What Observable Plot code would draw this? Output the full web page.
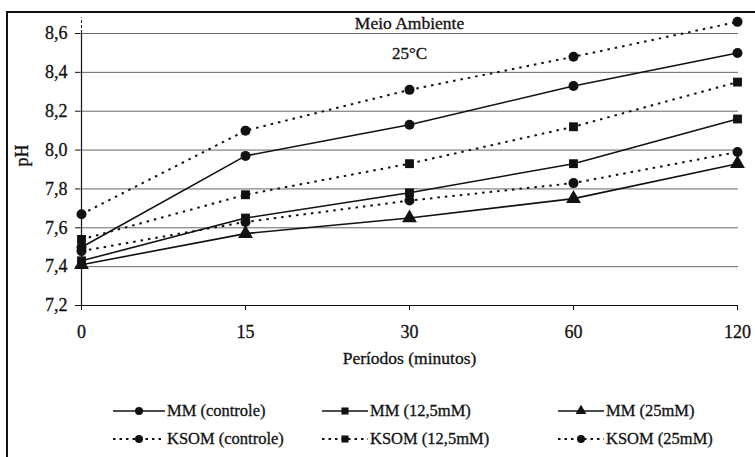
<!DOCTYPE html>
<html>
<head>
<meta charset="utf-8">
<script src="https://cdn.jsdelivr.net/npm/d3@7"></script>
<script src="https://cdn.jsdelivr.net/npm/@observablehq/plot@0.6"></script>
<style>
  html, body { margin: 0; padding: 0; background: #fff; }
  #wrap { position: relative; width: 755px; height: 457px; overflow: hidden; font-family: "Liberation Serif", "Times New Roman", Times, serif; }
  #frame { position: absolute; left: 6px; top: 11px; width: 760px; height: 460px; border-left: 2px solid #111; border-top: 2px solid #111; box-sizing: border-box; }
  #chart { position: absolute; left: 0; top: 0; }
  #chart svg text { font-family: "Liberation Serif", "Times New Roman", Times, serif; stroke: #111; stroke-width: 0.3px; }
  #legend { position: absolute; left: 113px; top: 400px; display: grid; grid-template-columns: 209px 236px auto; row-gap: 6px; font-size: 16.5px; color: #111; -webkit-text-stroke: 0.3px #111; }
  .item { display: flex; align-items: center; height: 22px; white-space: nowrap; }
  .item svg { margin-right: 2px; }
</style>
</head>
<body>
<div id="wrap">
  <div id="frame"></div>
  <div id="chart"></div>
  <div id="legend"></div>
</div>
<script>
// ---- data ----
const periods = ["0", "15", "30", "60", "120"];
const mmControle   = [7.50, 7.97, 8.13, 8.33, 8.50];
const mm125        = [7.43, 7.65, 7.78, 7.93, 8.16];
const mm25         = [7.41, 7.57, 7.65, 7.75, 7.93];
const ksomControle = [7.67, 8.10, 8.31, 8.48, 8.66];
const ksom125      = [7.54, 7.77, 7.93, 8.12, 8.35];
const ksom25       = [7.48, 7.63, 7.74, 7.83, 7.99];
const yTicks = [7.2, 7.4, 7.6, 7.8, 8.0, 8.2, 8.4, 8.6];
const seriesNames = ["MM (controle)", "MM (12,5mM)", "MM (25mM)", "KSOM (controle)", "KSOM (12,5mM)", "KSOM (25mM)"];
const seriesValues = [mmControle, mm125, mm25, ksomControle, ksom125, ksom25];
const seriesSymbols = ["circle", "square", "triangle", "circle", "square", "circle"];
const seriesDotted = [false, false, false, true, true, true];
const title = "Meio Ambiente";
const subtitle = "25°C";
const xLabel = "Períodos (minutos)";
const yLabel = "pH";

const rows = [];
seriesNames.forEach((name, i) => {
  periods.forEach((p, j) => rows.push({series: name, period: p, value: seriesValues[i][j], idx: i}));
});

const fmt = d => d.toFixed(1).replace(".", ",");
const FONT = "'Liberation Serif', 'Times New Roman', serif";

const marks = [
  Plot.ruleY(yTicks.filter(d => d > 7.2), {stroke: "#666", strokeWidth: 1}),
  Plot.ruleY([7.2], {stroke: "#111", strokeWidth: 1.2}),
  Plot.ruleX(["0"], {y1: 7.2, y2: 8.6, stroke: "#111", strokeWidth: 1.2}),
  Plot.ruleX(["0"], {y1: 8.6, y2: 8.68, stroke: "#111", strokeWidth: 1, strokeDasharray: "3,2"}),
];
seriesNames.forEach((name, i) => {
  const data = rows.filter(r => r.idx === i);
  marks.push(Plot.line(data, {
    x: "period", y: "value", stroke: "#111",
    strokeWidth: seriesDotted[i] ? 2 : 1.6,
    strokeDasharray: seriesDotted[i] ? "2.5,5" : null,
    strokeLinecap: "butt"
  }));
  marks.push(Plot.dot(data, {
    x: "period", y: "value", symbol: () => seriesSymbols[i], fill: "#111", stroke: "none",
    r: seriesSymbols[i] === "triangle" ? 5.5 : 5
  }));
});
marks.push(
  Plot.text([title], {frameAnchor: "top", lineAnchor: "middle", textAnchor: "middle", dy: -10, fontSize: 17.5, fill: "#111"}),
  Plot.text([subtitle], {frameAnchor: "top", lineAnchor: "middle", textAnchor: "middle", dy: 20, fontSize: 17, fill: "#111"}),
  Plot.text([xLabel], {frameAnchor: "bottom", lineAnchor: "middle", textAnchor: "middle", dy: 53, fontSize: 17.5, fill: "#111"}),
  Plot.text([yLabel], {frameAnchor: "left", lineAnchor: "middle", textAnchor: "middle", dx: -58, dy: -14, rotate: -90, fontSize: 18, fill: "#111"})
);

const chart = Plot.plot({
  width: 755,
  height: 380,
  marginLeft: 80,
  marginRight: 17,
  marginTop: 33,
  marginBottom: 75,
  style: {fontFamily: FONT, fontSize: "18px", color: "#111", background: "transparent"},
  x: {type: "point", domain: periods, padding: 0, label: null, tickSize: 5, tickPadding: 15},
  y: {domain: [7.2, 8.6], ticks: yTicks, tickFormat: fmt, label: null, tickSize: 5, tickPadding: 8},
  symbol: {type: "identity"},
  marks
});
document.getElementById("chart").appendChild(chart);

// ---- legend (HTML below the plot) ----
const legend = document.getElementById("legend");
seriesNames.forEach((name, i) => {
  const item = document.createElement("div");
  item.className = "item";
  const w = i % 3 === 0 ? 52 : 46;
  const svg = d3.create("svg").attr("width", w).attr("height", 14);
  svg.append("line").attr("x1", 0).attr("x2", w).attr("y1", 7).attr("y2", 7)
    .attr("stroke", "#111").attr("stroke-width", seriesDotted[i] ? 1.8 : 1.6)
    .attr("stroke-dasharray", seriesDotted[i] ? "2.5,4" : null);
  const symMap = {circle: d3.symbolCircle, square: d3.symbolSquare, triangle: d3.symbolTriangle};
  svg.append("path").attr("transform", `translate(${w / 2},7)`)
    .attr("d", d3.symbol(symMap[seriesSymbols[i]], Math.PI * 16)())
    .attr("fill", "#111");
  item.appendChild(svg.node());
  const span = document.createElement("span");
  span.textContent = name;
  item.appendChild(span);
  legend.appendChild(item);
});
</script>
</body>
</html>
